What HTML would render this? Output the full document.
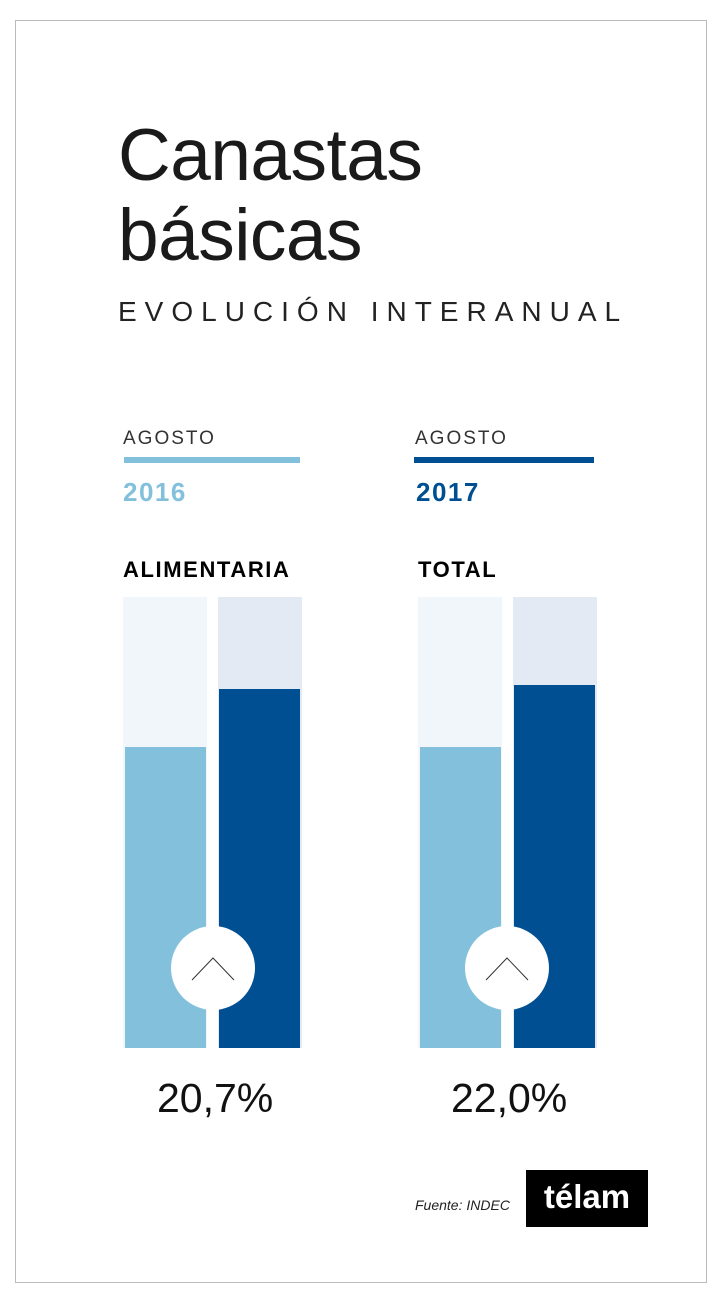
<!DOCTYPE html>
<html><head><meta charset="utf-8"><style>
body{margin:0;width:721px;height:1295px;background:#fff;position:relative;font-family:"Liberation Sans",sans-serif;overflow:hidden}
.a{position:absolute}
.frame{left:15px;top:20px;width:690px;height:1261px;border:1px solid #bbb}
.t{left:118px;font-size:73px;color:#1a1a1a;line-height:1;letter-spacing:-0.5px}
.bg1{background:#f0f6fa}.bg2{background:#e3eaf3}
.lb{background:#82c0dc}.db{background:#004f92}
.circ{width:84px;height:84px;border-radius:50%;background:#fff}
.pct{font-size:41px;color:#111}
</style></head><body>
<div class="a frame"></div>
<div class="a t" style="top:119px">Canastas</div>
<div class="a t" style="top:199px">básicas</div>
<div class="a" style="left:118px;top:296px;font-size:28px;letter-spacing:8px;color:#222">EVOLUCIÓN INTERANUAL</div>
<div class="a" style="left:123px;top:428px;font-size:19px;letter-spacing:2px;color:#333">AGOSTO</div>
<div class="a" style="left:415px;top:428px;font-size:19px;letter-spacing:2px;color:#333">AGOSTO</div>
<div class="a lb" style="left:124px;top:457px;width:176px;height:6px"></div>
<div class="a db" style="left:414px;top:457px;width:180px;height:6px"></div>
<div class="a" style="left:123px;top:477px;font-size:26px;font-weight:bold;letter-spacing:1.5px;color:#82c0dc">2016</div>
<div class="a" style="left:416px;top:477px;font-size:26px;font-weight:bold;letter-spacing:1.5px;color:#004f92">2017</div>
<div class="a" style="left:123px;top:557px;font-size:22px;font-weight:bold;letter-spacing:1.6px;color:#000">ALIMENTARIA</div>
<div class="a" style="left:418px;top:557px;font-size:22px;font-weight:bold;letter-spacing:1.6px;color:#000">TOTAL</div>
<div class="a bg1" style="left:123px;top:597px;width:84px;height:451px"></div>
<div class="a lb" style="left:125px;top:747px;width:81px;height:301px"></div>
<div class="a bg2" style="left:218px;top:597px;width:84px;height:451px"></div>
<div class="a db" style="left:219px;top:689px;width:81px;height:359px"></div>
<div class="a bg1" style="left:418px;top:597px;width:84px;height:451px"></div>
<div class="a lb" style="left:420px;top:747px;width:81px;height:301px"></div>
<div class="a bg2" style="left:513px;top:597px;width:84px;height:451px"></div>
<div class="a db" style="left:514px;top:685px;width:81px;height:363px"></div>
<div class="a circ" style="left:171px;top:926px"></div>
<div class="a circ" style="left:465px;top:926px"></div>
<svg class="a" style="left:0;top:0" width="721" height="1295"><polyline points="192,980 213,958 234,980" fill="none" stroke="#333" stroke-width="1"/><polyline points="486,980 507,958 528,980" fill="none" stroke="#333" stroke-width="1"/></svg>
<div class="a pct" style="left:157px;top:1075px">20,7%</div>
<div class="a pct" style="left:451px;top:1075px">22,0%</div>
<div class="a" style="left:415px;top:1197px;font-size:14px;font-style:italic;color:#222">Fuente: INDEC</div>
<div class="a" style="left:526px;top:1170px;width:122px;height:57px;background:#000;color:#fff;font-size:33px;font-weight:bold;text-align:center;line-height:54px">télam</div>
</body></html>
